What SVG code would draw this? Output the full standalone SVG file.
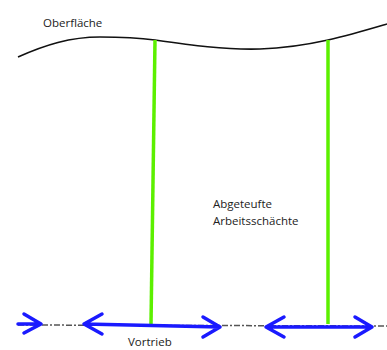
<svg xmlns="http://www.w3.org/2000/svg" width="387" height="350" viewBox="0 0 387 350">
  <style>
    .label { font-family: "Open Sans", "Liberation Sans", sans-serif; font-size: 11.5px; fill: #222; }
    .shaft { stroke: #5cf000; stroke-width: 3.5; fill: none; }
    .drive { stroke: #1a1aff; stroke-width: 3.5; fill: none; stroke-linecap: round; stroke-linejoin: round; }
    .axis { stroke: #555; stroke-width: 1.5; stroke-dasharray: 6 2 2 2; fill: none; }
  </style>
  <rect width="387" height="350" fill="#ffffff"/>

  <g id="surface">
    <path d="M18,57 C45,45 70,37 100,37 C125,37 140,38 155,40 C190,45 225,50 260,49 C290,48 310,44 328,40 C350,35 370,29 387,24" fill="none" stroke="#111" stroke-width="1.6"/>
    <text class="label" x="43" y="27">Oberfläche</text>
  </g>

  <g id="shafts">
    <line class="shaft" x1="155" y1="40" x2="151" y2="324"/>
    <line class="shaft" x1="328" y1="40" x2="328" y2="324"/>
    <text class="label" x="213" y="208">Abgeteufte</text>
    <text class="label" x="213" y="225">Arbeitsschächte</text>
  </g>

  <g id="connectors">
    <line class="axis" x1="18" y1="325" x2="387" y2="326"/>
    <!-- incoming drive on the left -->
    <path class="drive" d="M18,324 L40,324 M24,314 L41,324 L24,333"/>
    <!-- first drive section -->
    <path class="drive" d="M84,324 L220,327 M102,314 L84,324 L102,334 M203,317 L220,327 L203,337"/>
    <!-- second drive section -->
    <path class="drive" d="M266,327 L372,327 M284,317 L266,327 L284,337 M355,317 L372,327 L355,337"/>
  </g>

  <g id="drive-label">
    <text class="label" x="128" y="346">Vortrieb</text>
  </g>
</svg>
